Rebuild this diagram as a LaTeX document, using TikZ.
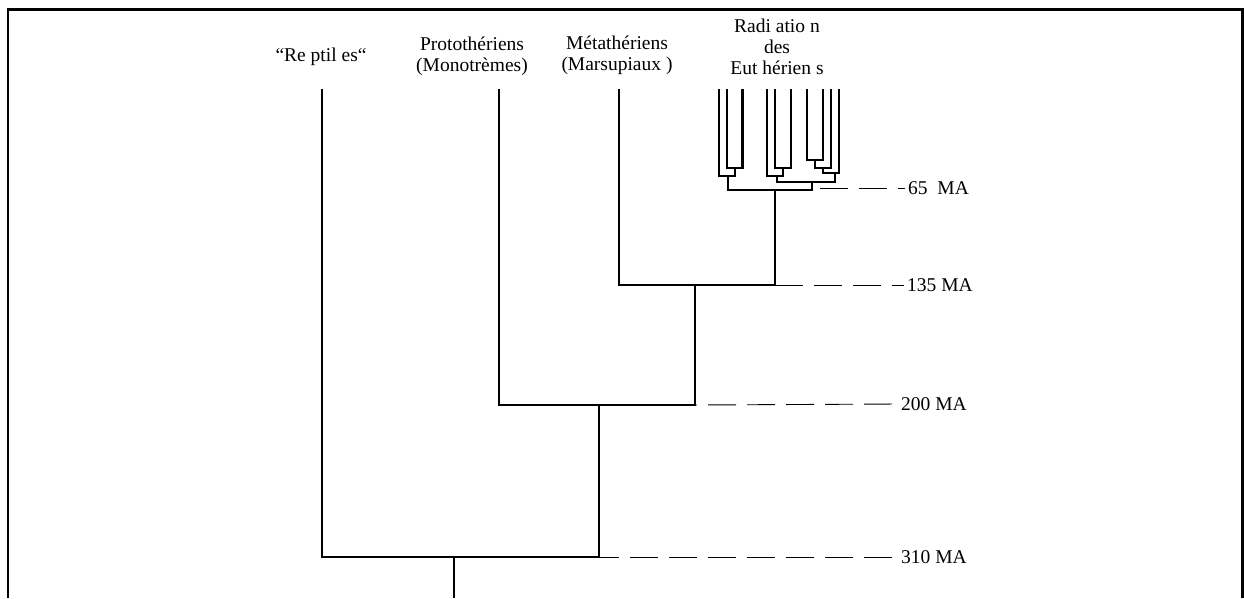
\documentclass[tikz,border=0pt]{standalone}
\usepackage{fontspec}
\setmainfont{Liberation Serif}
\begin{document}
\begin{tikzpicture}[x=1pt,y=-1pt,
  frame/.style={line width=2.5pt,line join=miter},
  tree/.style={line width=2.6pt,line join=miter},
  guide/.style={line width=0.9pt,dash pattern=on 28pt off 11pt},
  lab/.style={inner sep=0pt,anchor=base,align=center,font=\fontsize{19.5}{21}\selectfont},
  ma/.style={inner sep=3pt,anchor=west,font=\fontsize{19.5}{21}\selectfont}]
\useasboundingbox (0,0) rectangle (1244,598);
% frame
\draw[frame] (8,598) -- (8,9.5) -- (1242.5,9.5) -- (1242.5,598);
% labels (base anchor = baseline of last line)
\node[lab] (lR) at (321,61) {“Re ptil es“};
\node[lab] (lP) at (472,71) {Protothériens\\(Monotrèmes)};
\node[lab] (lM) at (617,70) {Métathériens\\(Marsupiaux )};
\node[lab] (lE) at (777,74) {Radi atio n\\des\\Eut hérien s};
% leaf tops
\coordinate (R) at (322,89);
\coordinate (P) at (499,89);
\coordinate (M) at (619,89);
\coordinate (e1) at (719,89);
\coordinate (e2) at (727,89);
\coordinate (e3) at (742.5,89);
\coordinate (e4) at (767,89);
\coordinate (e5) at (775,89);
\coordinate (e6) at (791,89);
\coordinate (e7) at (807,89);
\coordinate (e8) at (823,89);
\coordinate (e9) at (831,89);
\coordinate (e10) at (839,89);
% junctions
\coordinate (j1) at (735,168);
\coordinate (j2) at (728,176);
\coordinate (j3) at (783,168);
\coordinate (j4) at (777,176);
\coordinate (j5) at (815,160);
\coordinate (j6) at (823,168);
\coordinate (j7) at (835,173);
\coordinate (j8) at (812,182);
\coordinate (j9) at (775,190);
\coordinate (j10) at (695,285);
\coordinate (j11) at (599,405);
\coordinate (j12) at (454,557);
\coordinate (root) at (454,598);
% tree
\draw[tree] (e2) |- (j1) -| (e3);
\draw[tree] (e1) |- (j2) -| (j1);
\draw[tree] (e5) |- (j3) -| (e6);
\draw[tree] (e4) |- (j4) -| (j3);
\draw[tree] (e7) |- (j5) -| (e8);
\draw[tree] (j5) |- (j6) -| (e9);
\draw[tree] (j6) |- (j7) -| (e10);
\draw[tree] (j4) |- (j8) -| (j7);
\draw[tree] (j2) |- (j9) -| (j8);
\draw[tree] (M) |- (j10) -| (j9);
\draw[tree] (P) |- (j11) -| (j10);
\draw[tree] (R) |- (j12) -| (j11);
\draw[tree] (j12) -- (root);
% time labels
\node[ma] (t65) at (905,188) {65\ \ MA};
\node[ma] (t135) at (904,285) {135 MA};
\node[ma] (t200) at (898,404) {200 MA};
\node[ma] (t310) at (898,557) {310 MA};
\coordinate (g65) at (820,188);
\draw[guide] (g65) -- (t65.west);
\draw[guide] (j9 |- j10) -- (t135.west);
\draw[guide,dash phase=33pt] (t200.west) -- (j10 |- j11);
\draw[guide,dash phase=33pt] (t310.west) -- (j11 |- j12);
\end{tikzpicture}
\end{document}
